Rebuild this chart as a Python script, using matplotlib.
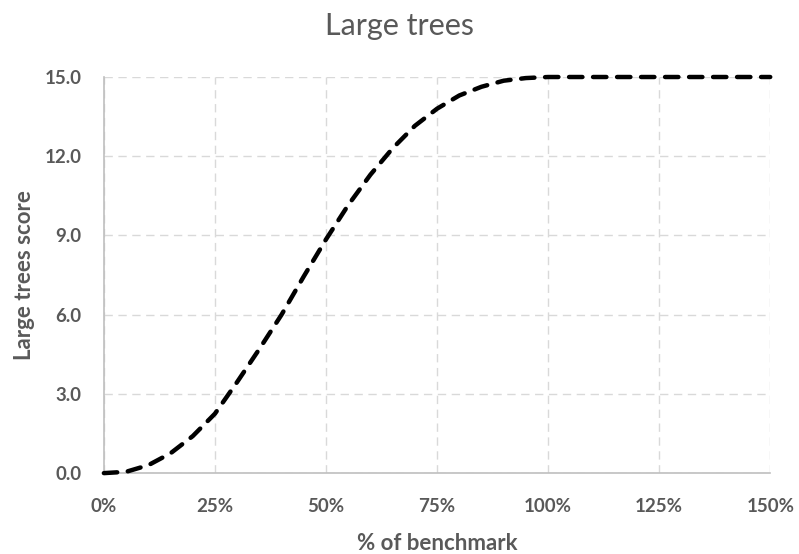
import numpy as np
import matplotlib.pyplot as plt
from matplotlib.ticker import FuncFormatter

# values
pct = [0, 5, 10, 15, 20, 25, 30, 35, 40, 45, 50, 55, 60, 65, 70, 75, 80, 85, 90, 95, 100, 150]
score = [0.0, 0.05, 0.3, 0.75, 1.4, 2.25, 3.45, 4.7, 6.0, 7.45, 8.85, 10.15, 11.3, 12.3, 13.15, 13.8,
         14.3, 14.63, 14.86, 14.96, 15.0, 15.0]
xticks = [0, 25, 50, 75, 100, 125, 150]
yticks = [0, 3, 6, 9, 12, 15]

plt.rcParams['font.family'] = ['Lato', 'DejaVu Sans']
grey = '#595959'

fig = plt.figure(figsize=(7.99, 5.54), dpi=100)
ax = fig.add_axes([0.130, 0.146, 0.834, 0.715])

ax.plot(pct, score, color='black', lw=3.2, dashes=(3.0, 2.4),
        dash_capstyle='round', solid_capstyle='round', clip_on=False, zorder=3)

ax.set_xlim(0, 150)
ax.set_ylim(0, 15)
ax.set_xticks(xticks)
ax.set_yticks(yticks)
ax.xaxis.set_major_formatter(FuncFormatter(lambda v, p: '%d%%' % v))
ax.yaxis.set_major_formatter(FuncFormatter(lambda v, p: '%.1f' % v))
ax.tick_params(length=0, colors=grey, labelsize=13.5)
ax.tick_params(axis='x', pad=18)
ax.tick_params(axis='y', pad=16)
for lab in ax.get_xticklabels() + ax.get_yticklabels():
    lab.set_fontweight('bold')

ax.grid(True, color='#d9d9d9', lw=1, dashes=(6, 4))
ax.set_axisbelow(True)
for s in ['top', 'right']:
    ax.spines[s].set_visible(False)
for s in ['left', 'bottom']:
    ax.spines[s].set_color('#bfbfbf')
    ax.spines[s].set_linewidth(1.2)

fig.text(0.5, 1 - 35 / 554, 'Large trees', fontsize=22, color=grey, ha='center', va='baseline')
ax.set_xlabel('% of benchmark', fontsize=16, fontweight='bold', color=grey, labelpad=13)
ax.set_ylabel('Large trees score', fontsize=16, fontweight='bold', color=grey, labelpad=7)

fig.savefig('out.png', dpi=100)
